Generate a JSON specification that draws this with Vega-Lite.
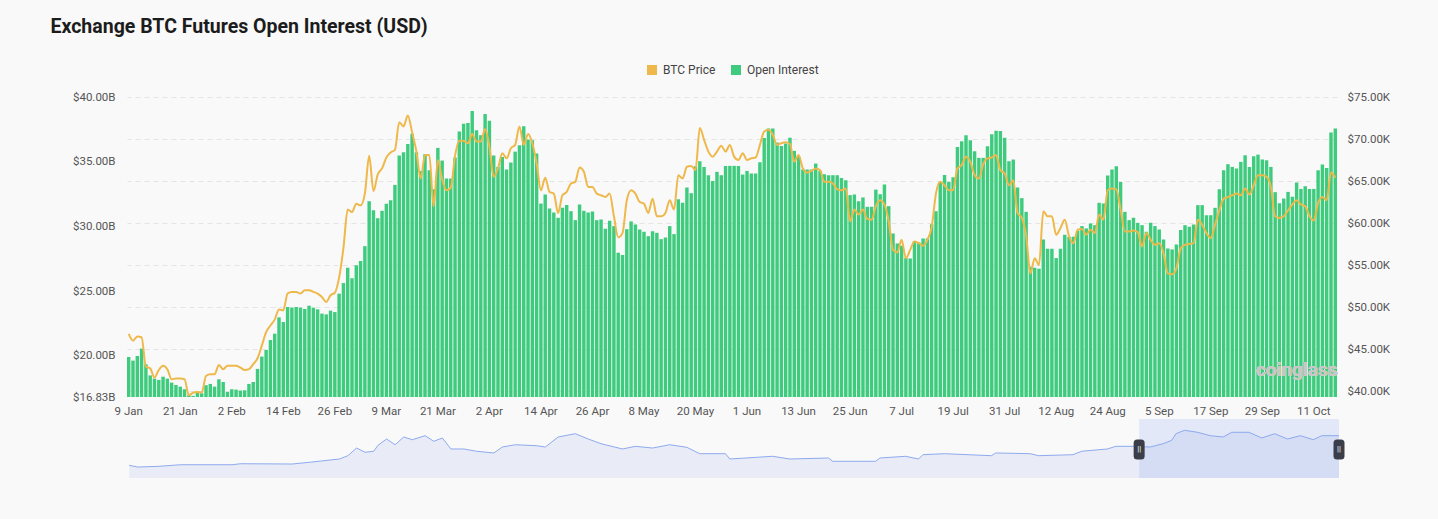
{
"$schema":"https://vega.github.io/schema/vega-lite/v6.json",
"background":"#f9f9f9",
"padding":{"left":50,"top":16,"right":50,"bottom":45},
"title":{"text":"Exchange BTC Futures Open Interest (USD)","anchor":"start","font":"Roboto","fontSize":19.5,"fontWeight":700,"color":"#1c1c1c","dx":-22,"offset":27},
"config":{"view":{"stroke":null},"font":"Roboto","axis":{"labelFont":"Roboto","labelFontSize":11.5,"labelColor":"#555555","domain":false,"ticks":false,"title":null}},
"spacing":2,
"vconcat":[
{
"width":1210,"height":300,
"data":{"values":[
{"date":"2024-01-09","oi":19.92,"price":46.8},{"date":"2024-01-10","oi":19.64,"price":46.0},{"date":"2024-01-11","oi":20.00,"price":46.5},{"date":"2024-01-12","oi":20.57,"price":46.4},{"date":"2024-01-13","oi":19.36,"price":42.9},{"date":"2024-01-14","oi":18.50,"price":42.7},{"date":"2024-01-15","oi":18.25,"price":41.6},{"date":"2024-01-16","oi":18.15,"price":42.5},{"date":"2024-01-17","oi":18.40,"price":43.0},{"date":"2024-01-18","oi":18.25,"price":42.6},{"date":"2024-01-19","oi":17.94,"price":41.4},{"date":"2024-01-20","oi":17.76,"price":41.5},{"date":"2024-01-21","oi":17.63,"price":41.5},{"date":"2024-01-22","oi":17.43,"price":41.4},{"date":"2024-01-23","oi":16.97,"price":39.5},{"date":"2024-01-24","oi":16.92,"price":39.8},{"date":"2024-01-25","oi":17.17,"price":39.9},{"date":"2024-01-26","oi":17.12,"price":39.8},{"date":"2024-01-27","oi":17.74,"price":41.8},{"date":"2024-01-28","oi":17.84,"price":42.0},{"date":"2024-01-29","oi":17.63,"price":42.0},{"date":"2024-01-30","oi":18.20,"price":43.1},{"date":"2024-01-31","oi":17.99,"price":42.6},
{"date":"2024-02-01","oi":17.22,"price":43.0},{"date":"2024-02-02","oi":17.43,"price":43.0},{"date":"2024-02-03","oi":17.40,"price":43.0},{"date":"2024-02-04","oi":17.33,"price":42.8},{"date":"2024-02-05","oi":17.35,"price":42.5},{"date":"2024-02-06","oi":17.84,"price":42.6},{"date":"2024-02-07","oi":17.99,"price":43.2},{"date":"2024-02-08","oi":19.00,"price":43.9},{"date":"2024-02-09","oi":19.95,"price":45.4},{"date":"2024-02-10","oi":20.46,"price":47.0},{"date":"2024-02-11","oi":21.23,"price":47.8},{"date":"2024-02-12","oi":21.72,"price":48.5},{"date":"2024-02-13","oi":22.98,"price":49.7},{"date":"2024-02-14","oi":22.62,"price":49.6},{"date":"2024-02-15","oi":23.78,"price":51.6},{"date":"2024-02-16","oi":23.73,"price":51.8},{"date":"2024-02-17","oi":23.78,"price":51.8},{"date":"2024-02-18","oi":23.73,"price":51.6},{"date":"2024-02-19","oi":23.63,"price":52.0},{"date":"2024-02-20","oi":23.88,"price":52.0},{"date":"2024-02-21","oi":23.73,"price":51.8},{"date":"2024-02-22","oi":23.60,"price":51.6},{"date":"2024-02-23","oi":23.27,"price":51.2},{"date":"2024-02-24","oi":23.21,"price":50.6},{"date":"2024-02-25","oi":23.50,"price":51.4},{"date":"2024-02-26","oi":23.39,"price":51.7},{"date":"2024-02-27","oi":24.81,"price":53.5},{"date":"2024-02-28","oi":25.63,"price":57.0},{"date":"2024-02-29","oi":26.81,"price":61.6},
{"date":"2024-03-01","oi":26.00,"price":61.3},{"date":"2024-03-02","oi":27.00,"price":62.3},{"date":"2024-03-03","oi":27.33,"price":62.1},{"date":"2024-03-04","oi":28.48,"price":63.5},{"date":"2024-03-05","oi":31.95,"price":68.0},{"date":"2024-03-06","oi":31.26,"price":63.8},{"date":"2024-03-07","oi":30.64,"price":65.8},{"date":"2024-03-08","oi":31.21,"price":66.5},{"date":"2024-03-09","oi":31.75,"price":67.8},{"date":"2024-03-10","oi":32.03,"price":68.4},{"date":"2024-03-11","oi":33.21,"price":68.7},{"date":"2024-03-12","oi":35.48,"price":72.0},{"date":"2024-03-13","oi":35.73,"price":71.5},{"date":"2024-03-14","oi":36.37,"price":72.8},{"date":"2024-03-15","oi":37.17,"price":70.8},{"date":"2024-03-16","oi":35.73,"price":68.5},{"date":"2024-03-17","oi":34.29,"price":65.3},{"date":"2024-03-18","oi":35.58,"price":68.1},{"date":"2024-03-19","oi":34.34,"price":68.1},{"date":"2024-03-20","oi":32.88,"price":62.0},{"date":"2024-03-21","oi":36.07,"price":67.5},{"date":"2024-03-22","oi":35.09,"price":65.2},{"date":"2024-03-23","oi":33.70,"price":63.9},{"date":"2024-03-24","oi":33.70,"price":64.2},{"date":"2024-03-25","oi":35.32,"price":68.0},{"date":"2024-03-26","oi":37.33,"price":69.8},{"date":"2024-03-27","oi":37.94,"price":69.8},{"date":"2024-03-28","oi":37.99,"price":69.5},{"date":"2024-03-29","oi":38.92,"price":70.6},{"date":"2024-03-30","oi":37.43,"price":69.7},{"date":"2024-03-31","oi":37.04,"price":69.7},
{"date":"2024-04-01","oi":38.69,"price":71.2},{"date":"2024-04-02","oi":38.17,"price":69.1},{"date":"2024-04-03","oi":35.48,"price":65.5},{"date":"2024-04-04","oi":34.60,"price":66.5},{"date":"2024-04-05","oi":35.37,"price":68.3},{"date":"2024-04-06","oi":34.40,"price":67.7},{"date":"2024-04-07","oi":34.94,"price":68.9},{"date":"2024-04-08","oi":35.78,"price":69.3},{"date":"2024-04-09","oi":36.27,"price":71.5},{"date":"2024-04-10","oi":37.74,"price":69.3},{"date":"2024-04-11","oi":36.71,"price":70.6},{"date":"2024-04-12","oi":36.66,"price":69.5},{"date":"2024-04-13","oi":35.63,"price":67.1},{"date":"2024-04-14","oi":31.77,"price":63.9},{"date":"2024-04-15","oi":32.47,"price":65.4},{"date":"2024-04-16","oi":31.39,"price":63.7},{"date":"2024-04-17","oi":31.08,"price":63.5},{"date":"2024-04-18","oi":30.67,"price":61.2},{"date":"2024-04-19","oi":31.44,"price":63.3},{"date":"2024-04-20","oi":31.65,"price":63.7},{"date":"2024-04-21","oi":31.18,"price":64.7},{"date":"2024-04-22","oi":30.49,"price":64.9},{"date":"2024-04-23","oi":31.70,"price":66.6},{"date":"2024-04-24","oi":31.21,"price":66.1},{"date":"2024-04-25","oi":31.08,"price":64.3},{"date":"2024-04-26","oi":31.16,"price":64.3},{"date":"2024-04-27","oi":30.49,"price":63.5},{"date":"2024-04-28","oi":30.54,"price":63.3},{"date":"2024-04-29","oi":29.82,"price":63.1},{"date":"2024-04-30","oi":30.44,"price":63.5},
{"date":"2024-05-01","oi":30.03,"price":60.8},{"date":"2024-05-02","oi":27.97,"price":58.3},{"date":"2024-05-03","oi":27.79,"price":58.8},{"date":"2024-05-04","oi":29.79,"price":62.7},{"date":"2024-05-05","oi":30.39,"price":63.9},{"date":"2024-05-06","oi":30.15,"price":63.5},{"date":"2024-05-07","oi":29.77,"price":62.5},{"date":"2024-05-08","oi":29.59,"price":62.3},{"date":"2024-05-09","oi":29.25,"price":61.2},{"date":"2024-05-10","oi":29.64,"price":62.9},{"date":"2024-05-11","oi":29.51,"price":60.8},{"date":"2024-05-12","oi":29.02,"price":60.8},{"date":"2024-05-13","oi":29.15,"price":61.2},{"date":"2024-05-14","oi":30.03,"price":62.7},{"date":"2024-05-15","oi":29.41,"price":61.6},{"date":"2024-05-16","oi":32.11,"price":65.7},{"date":"2024-05-17","oi":31.83,"price":65.3},{"date":"2024-05-18","oi":33.01,"price":66.7},{"date":"2024-05-19","oi":32.57,"price":66.8},{"date":"2024-05-20","oi":34.65,"price":66.3},{"date":"2024-05-21","oi":35.04,"price":71.3},{"date":"2024-05-22","oi":34.60,"price":69.9},{"date":"2024-05-23","oi":33.96,"price":68.5},{"date":"2024-05-24","oi":33.52,"price":67.9},{"date":"2024-05-25","oi":34.22,"price":68.5},{"date":"2024-05-26","oi":33.96,"price":69.2},{"date":"2024-05-27","oi":34.68,"price":68.5},{"date":"2024-05-28","oi":34.68,"price":69.3},{"date":"2024-05-29","oi":34.68,"price":67.9},{"date":"2024-05-30","oi":34.68,"price":67.5},{"date":"2024-05-31","oi":34.01,"price":68.3},
{"date":"2024-06-01","oi":34.29,"price":67.5},{"date":"2024-06-02","oi":34.09,"price":67.7},{"date":"2024-06-03","oi":34.09,"price":67.8},{"date":"2024-06-04","oi":34.96,"price":69.3},{"date":"2024-06-05","oi":36.84,"price":70.9},{"date":"2024-06-06","oi":37.56,"price":71.1},{"date":"2024-06-07","oi":37.56,"price":70.5},{"date":"2024-06-08","oi":36.48,"price":69.3},{"date":"2024-06-09","oi":36.22,"price":69.5},{"date":"2024-06-10","oi":36.40,"price":69.6},{"date":"2024-06-11","oi":36.86,"price":69.4},{"date":"2024-06-12","oi":35.84,"price":67.3},{"date":"2024-06-13","oi":35.42,"price":68.1},{"date":"2024-06-14","oi":34.40,"price":66.5},{"date":"2024-06-15","oi":34.40,"price":66.0},{"date":"2024-06-16","oi":34.40,"price":66.2},{"date":"2024-06-17","oi":34.86,"price":66.5},{"date":"2024-06-18","oi":34.29,"price":66.3},{"date":"2024-06-19","oi":34.04,"price":64.9},{"date":"2024-06-20","oi":33.96,"price":64.9},{"date":"2024-06-21","oi":33.96,"price":64.7},{"date":"2024-06-22","oi":33.96,"price":64.0},{"date":"2024-06-23","oi":33.75,"price":63.9},{"date":"2024-06-24","oi":33.57,"price":64.1},{"date":"2024-06-25","oi":32.42,"price":60.2},{"date":"2024-06-26","oi":32.47,"price":61.6},{"date":"2024-06-27","oi":31.95,"price":61.0},{"date":"2024-06-28","oi":32.24,"price":61.6},{"date":"2024-06-29","oi":31.52,"price":60.5},{"date":"2024-06-30","oi":31.52,"price":60.4},
{"date":"2024-07-01","oi":32.85,"price":62.0},{"date":"2024-07-02","oi":32.49,"price":62.7},{"date":"2024-07-03","oi":33.24,"price":62.2},{"date":"2024-07-04","oi":31.57,"price":60.2},{"date":"2024-07-05","oi":29.46,"price":56.8},{"date":"2024-07-06","oi":28.69,"price":56.5},{"date":"2024-07-07","oi":28.51,"price":58.0},{"date":"2024-07-08","oi":27.58,"price":55.8},{"date":"2024-07-09","oi":27.53,"price":56.8},{"date":"2024-07-10","oi":28.87,"price":57.8},{"date":"2024-07-11","oi":28.77,"price":57.6},{"date":"2024-07-12","oi":29.07,"price":57.3},{"date":"2024-07-13","oi":29.07,"price":58.0},{"date":"2024-07-14","oi":30.18,"price":59.5},{"date":"2024-07-15","oi":31.18,"price":63.5},{"date":"2024-07-16","oi":33.44,"price":64.9},{"date":"2024-07-17","oi":33.98,"price":64.5},{"date":"2024-07-18","oi":33.44,"price":63.9},{"date":"2024-07-19","oi":33.80,"price":63.9},{"date":"2024-07-20","oi":36.14,"price":66.5},{"date":"2024-07-21","oi":36.58,"price":66.9},{"date":"2024-07-22","oi":37.04,"price":67.9},{"date":"2024-07-23","oi":36.66,"price":67.3},{"date":"2024-07-24","oi":35.81,"price":65.7},{"date":"2024-07-25","oi":35.30,"price":65.3},{"date":"2024-07-26","oi":35.30,"price":67.0},{"date":"2024-07-27","oi":36.20,"price":67.7},{"date":"2024-07-28","oi":37.12,"price":67.8},{"date":"2024-07-29","oi":37.40,"price":68.1},{"date":"2024-07-30","oi":37.38,"price":66.3},{"date":"2024-07-31","oi":36.86,"price":65.9},
{"date":"2024-08-01","oi":35.04,"price":64.5},{"date":"2024-08-02","oi":35.17,"price":65.1},{"date":"2024-08-03","oi":33.01,"price":61.2},{"date":"2024-08-04","oi":32.19,"price":60.6},{"date":"2024-08-05","oi":31.13,"price":58.5},{"date":"2024-08-06","oi":26.89,"price":54.0},{"date":"2024-08-07","oi":26.81,"price":55.8},{"date":"2024-08-08","oi":26.74,"price":55.0},{"date":"2024-08-09","oi":29.00,"price":61.4},{"date":"2024-08-10","oi":28.28,"price":60.8},{"date":"2024-08-11","oi":28.28,"price":60.8},{"date":"2024-08-12","oi":27.56,"price":58.6},{"date":"2024-08-13","oi":28.28,"price":59.4},{"date":"2024-08-14","oi":29.36,"price":60.4},{"date":"2024-08-15","oi":29.20,"price":58.4},{"date":"2024-08-16","oi":29.20,"price":57.6},{"date":"2024-08-17","oi":29.67,"price":59.2},{"date":"2024-08-18","oi":30.03,"price":59.3},{"date":"2024-08-19","oi":29.85,"price":58.6},{"date":"2024-08-20","oi":30.23,"price":59.2},{"date":"2024-08-21","oi":30.10,"price":58.8},{"date":"2024-08-22","oi":31.83,"price":61.0},{"date":"2024-08-23","oi":31.77,"price":60.4},{"date":"2024-08-24","oi":33.93,"price":63.9},{"date":"2024-08-25","oi":34.40,"price":64.1},{"date":"2024-08-26","oi":34.65,"price":64.0},{"date":"2024-08-27","oi":33.44,"price":61.6},{"date":"2024-08-28","oi":31.13,"price":59.0},{"date":"2024-08-29","oi":30.49,"price":59.0},{"date":"2024-08-30","oi":30.67,"price":59.1},{"date":"2024-08-31","oi":30.28,"price":58.9},
{"date":"2024-09-01","oi":30.10,"price":57.2},{"date":"2024-09-02","oi":29.59,"price":58.8},{"date":"2024-09-03","oi":30.28,"price":58.0},{"date":"2024-09-04","oi":30.03,"price":57.4},{"date":"2024-09-05","oi":29.77,"price":57.6},{"date":"2024-09-06","oi":29.00,"price":56.4},{"date":"2024-09-07","oi":28.30,"price":54.0},{"date":"2024-09-08","oi":28.23,"price":53.9},{"date":"2024-09-09","oi":28.61,"price":54.6},{"date":"2024-09-10","oi":29.72,"price":57.0},{"date":"2024-09-11","oi":30.10,"price":57.4},{"date":"2024-09-12","oi":29.97,"price":57.5},{"date":"2024-09-13","oi":30.15,"price":57.6},{"date":"2024-09-14","oi":31.65,"price":60.4},{"date":"2024-09-15","oi":31.65,"price":59.8},{"date":"2024-09-16","oi":30.87,"price":58.8},{"date":"2024-09-17","oi":30.87,"price":58.2},{"date":"2024-09-18","oi":31.44,"price":59.8},{"date":"2024-09-19","oi":32.88,"price":61.5},{"date":"2024-09-20","oi":34.34,"price":62.9},{"date":"2024-09-21","oi":34.81,"price":63.1},{"date":"2024-09-22","oi":34.60,"price":63.3},{"date":"2024-09-23","oi":34.47,"price":63.5},{"date":"2024-09-24","oi":34.99,"price":63.3},{"date":"2024-09-25","oi":35.50,"price":64.1},{"date":"2024-09-26","oi":34.60,"price":63.4},{"date":"2024-09-27","oi":35.42,"price":64.5},{"date":"2024-09-28","oi":35.55,"price":65.7},{"date":"2024-09-29","oi":35.17,"price":65.7},{"date":"2024-09-30","oi":35.12,"price":65.5},
{"date":"2024-10-01","oi":34.60,"price":64.3},{"date":"2024-10-02","oi":32.65,"price":60.8},{"date":"2024-10-03","oi":31.80,"price":60.6},{"date":"2024-10-04","oi":32.16,"price":60.8},{"date":"2024-10-05","oi":32.67,"price":61.5},{"date":"2024-10-06","oi":32.29,"price":62.2},{"date":"2024-10-07","oi":33.39,"price":62.7},{"date":"2024-10-08","oi":32.90,"price":62.2},{"date":"2024-10-09","oi":33.11,"price":62.0},{"date":"2024-10-10","oi":32.90,"price":60.8},{"date":"2024-10-11","oi":32.90,"price":60.3},{"date":"2024-10-12","oi":34.34,"price":62.4},{"date":"2024-10-13","oi":34.78,"price":63.1},{"date":"2024-10-14","oi":34.52,"price":62.7},{"date":"2024-10-15","oi":37.25,"price":66.0},{"date":"2024-10-16","oi":37.56,"price":65.4}
]},
"encoding":{"x":{"field":"date","type":"ordinal","scale":{"paddingInner":0.2,"paddingOuter":0},"axis":{"values":["2024-01-09","2024-01-21","2024-02-02","2024-02-14","2024-02-26","2024-03-09","2024-03-21","2024-04-02","2024-04-14","2024-04-26","2024-05-08","2024-05-20","2024-06-01","2024-06-13","2024-06-25","2024-07-07","2024-07-19","2024-07-31","2024-08-12","2024-08-24","2024-09-05","2024-09-17","2024-09-29","2024-10-11"],"labelExpr":"utcFormat(toDate(datum.value), '%-d %b')","labelAngle":0,"labelPadding":8,"labelOverlap":false,"grid":false}}},
"layer":[
{"mark":{"type":"bar"},
 "encoding":{
  "y":{"field":"oi","type":"quantitative","scale":{"domain":[16.83,40],"nice":false,"zero":false},"axis":{"orient":"left","values":[16.83,20,25,30,35,40],"labelExpr":"'$' + format(datum.value, '.2f') + 'B'","grid":false,"labelPadding":12}},
  "y2":{"datum":16.83},
  "color":{"datum":"Open Interest","type":"nominal","scale":{"domain":["BTC Price","Open Interest"],"range":["#efb84a","#3ecb7e"]},"legend":{"orient":"none","legendX":519,"legendY":-33,"direction":"horizontal","title":null,"symbolType":"square","symbolSize":100,"symbolStrokeWidth":0,"symbolOpacity":1,"labelFont":"Roboto","labelFontSize":12,"labelColor":"#444444","columnPadding":14,"labelOffset":5}}}},
{"mark":{"type":"line","interpolate":"monotone","strokeWidth":2},
 "encoding":{
  "y":{"field":"price","type":"quantitative","scale":{"domain":[39.29,75],"nice":false,"zero":false},"axis":{"orient":"right","values":[40,45,50,55,60,65,70,75],"labelExpr":"'$' + format(datum.value, '.2f') + 'K'","grid":true,"gridDash":[5,4],"gridColor":"#e4e4e4","labelPadding":10}},
  "color":{"datum":"BTC Price","type":"nominal"}}},
{"mark":{"type":"text","text":"coinglass","font":"Roboto","fontSize":19,"fontWeight":600,"color":"#c8c8c8","opacity":0.45,"align":"center","baseline":"middle"},
 "encoding":{"x":{"datum":"2024-10-07"},"y":{"datum":18.95,"type":"quantitative","scale":{"domain":[16.83,40],"nice":false,"zero":false},"axis":null}}}
],
"resolve":{"scale":{"y":"independent"}}
},
{
"width":1212,"height":59,
"layer":[
{"data":{"values":[
{"date":"2024-01-09T00:00:00","v":21.5},{"date":"2024-01-11T00:00:00","v":18.6},{"date":"2024-01-16T00:00:00","v":19.8},{"date":"2024-01-21T00:00:00","v":22.5},{"date":"2024-02-02T00:00:00","v":22.5},{"date":"2024-02-04T00:00:00","v":24.2},{"date":"2024-02-16T00:00:00","v":23.7},{"date":"2024-02-20T00:00:00","v":26.6},{"date":"2024-02-27T00:00:00","v":32.2},{"date":"2024-02-29T00:00:00","v":37.8},{"date":"2024-03-02T00:00:00","v":50.8},{"date":"2024-03-04T00:00:00","v":43.6},{"date":"2024-03-06T00:00:00","v":45.3},{"date":"2024-03-07T00:00:00","v":55.4},{"date":"2024-03-09T00:00:00","v":66.1},{"date":"2024-03-11T00:00:00","v":56.4},{"date":"2024-03-13T00:00:00","v":69.5},{"date":"2024-03-15T00:00:00","v":64.9},{"date":"2024-03-18T00:00:00","v":71.7},{"date":"2024-03-20T00:00:00","v":62.2},{"date":"2024-03-22T00:00:00","v":67.8},{"date":"2024-03-24T00:00:00","v":49.2},{"date":"2024-03-27T00:00:00","v":49.2},{"date":"2024-03-30T00:00:00","v":45.3},{"date":"2024-04-03T00:00:00","v":42.4},{"date":"2024-04-05T00:00:00","v":52.5},{"date":"2024-04-08T00:00:00","v":56.4},{"date":"2024-04-13T00:00:00","v":54.7},{"date":"2024-04-15T00:00:00","v":52.5},{"date":"2024-04-18T00:00:00","v":69.5},{"date":"2024-04-22T00:00:00","v":75.1},{"date":"2024-04-25T00:00:00","v":66.1},{"date":"2024-04-28T00:00:00","v":58.1},{"date":"2024-05-03T00:00:00","v":49.2},{"date":"2024-05-06T00:00:00","v":53.7},{"date":"2024-05-10T00:00:00","v":50.8},{"date":"2024-05-14T00:00:00","v":56.4},{"date":"2024-05-18T00:00:00","v":52.0},{"date":"2024-05-21T00:00:00","v":41.2},{"date":"2024-05-27T00:00:00","v":41.2},{"date":"2024-05-28T00:00:00","v":32.2},{"date":"2024-06-07T00:00:00","v":36.8},{"date":"2024-06-11T00:00:00","v":32.2},{"date":"2024-06-20T00:00:00","v":33.9},{"date":"2024-06-21T00:00:00","v":28.3},{"date":"2024-07-01T00:00:00","v":28.3},{"date":"2024-07-02T00:00:00","v":33.9},{"date":"2024-07-08T00:00:00","v":36.8},{"date":"2024-07-11T00:00:00","v":32.2},{"date":"2024-07-12T00:00:00","v":39.5},{"date":"2024-07-17T00:00:00","v":41.2},{"date":"2024-07-28T00:00:00","v":37.8},{"date":"2024-07-29T00:00:00","v":42.4},{"date":"2024-08-06T00:00:00","v":41.2},{"date":"2024-08-08T00:00:00","v":37.8},{"date":"2024-08-16T00:00:00","v":39.5},{"date":"2024-08-18T00:00:00","v":45.3},{"date":"2024-08-24T00:00:00","v":49.2},{"date":"2024-08-26T00:00:00","v":53.7},{"date":"2024-08-30T00:00:00","v":53.7},{"date":"2024-09-03T00:00:00","v":52.5},{"date":"2024-09-06T00:00:00","v":58.1},{"date":"2024-09-08T00:00:00","v":63.9},{"date":"2024-09-09T00:00:00","v":75.1},{"date":"2024-09-11T00:00:00","v":80.8},{"date":"2024-09-14T00:00:00","v":77.5},{"date":"2024-09-17T00:00:00","v":71.7},{"date":"2024-09-20T00:00:00","v":69.5},{"date":"2024-09-22T00:00:00","v":77.5},{"date":"2024-09-26T00:00:00","v":77.5},{"date":"2024-09-29T00:00:00","v":67.8},{"date":"2024-10-02T00:00:00","v":75.1},{"date":"2024-10-05T00:00:00","v":66.1},{"date":"2024-10-08T00:00:00","v":71.7},{"date":"2024-10-11T00:00:00","v":64.9},{"date":"2024-10-13T00:00:00","v":71.7},{"date":"2024-10-17T00:00:00","v":71.7}
]},
 "mark":{"type":"area","color":"#e2e7f6","line":{"color":"#8eaaee","strokeWidth":1}},
 "encoding":{"x":{"field":"date","type":"temporal","scale":{"domain":[{"year":2024,"month":1,"date":8,"hours":12},{"year":2024,"month":10,"date":17}],"padding":0},"axis":null},"y":{"field":"v","type":"quantitative","scale":{"domain":[0,100],"nice":false,"padding":0},"axis":null}}},
{"data":{"values":[{"start":"2024-08-31T10:00:00","end":"2024-10-17T00:00:00"}]},
 "mark":{"type":"rect","color":"#87a5f0","opacity":0.2},
 "encoding":{"x":{"field":"start","type":"temporal"},"x2":{"field":"end"}}},
{"data":{"values":[{"date":"2024-08-31T10:00:00","mid":48.5},{"date":"2024-10-17T00:00:00","mid":48.5}]},
 "layer":[
  {"mark":{"type":"point","filled":true,"size":400,"opacity":1,"color":"#3a3e49","shape":"M -0.2 -1 L 0.2 -1 Q 0.55 -1 0.55 -0.65 L 0.55 0.65 Q 0.55 1 0.2 1 L -0.2 1 Q -0.55 1 -0.55 0.65 L -0.55 -0.65 Q -0.55 -1 -0.2 -1 Z"},
   "encoding":{"x":{"field":"date","type":"temporal"},"y":{"field":"mid","type":"quantitative"}}},
  {"mark":{"type":"text","text":"||","fontSize":8,"color":"#ffffff","align":"center","baseline":"middle"},
   "encoding":{"x":{"field":"date","type":"temporal"},"y":{"field":"mid","type":"quantitative"}}}
 ]}
]
}
]
}
